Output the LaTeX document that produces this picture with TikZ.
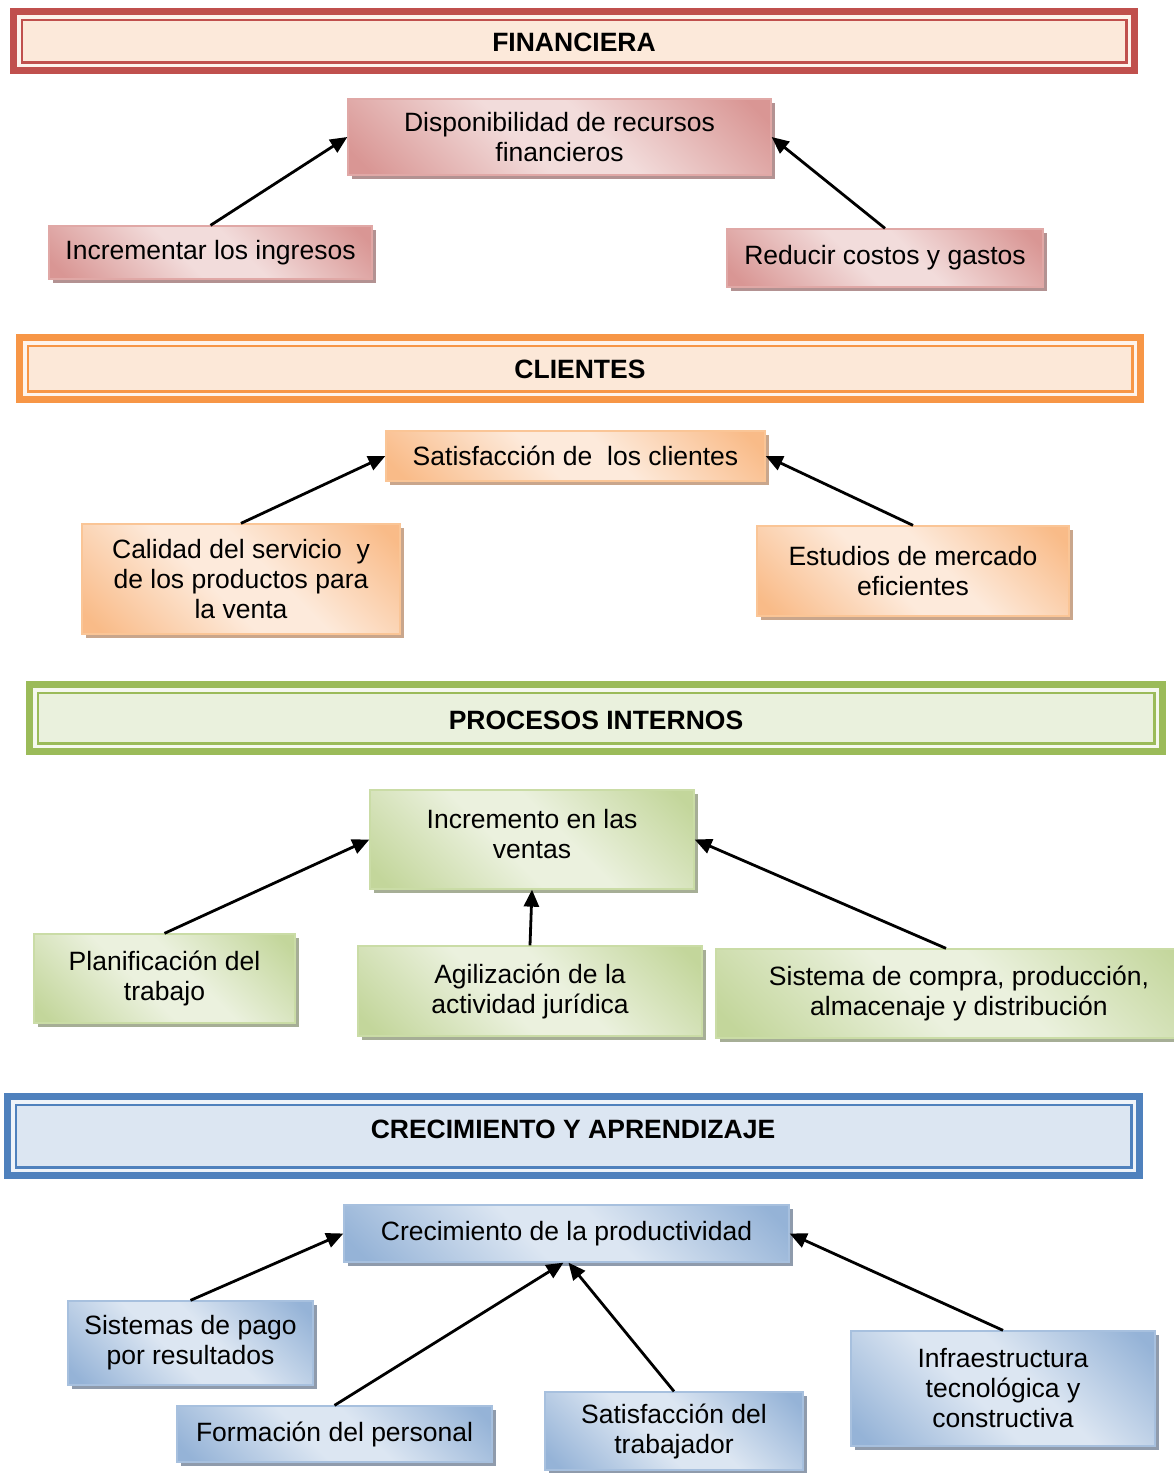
\documentclass[tikz,border=0pt]{standalone}
\usepackage{fontspec}
\setmainfont{Liberation Sans}
\usetikzlibrary{shadows,arrows.meta}

% perspective colours
\definecolor{finDark}{HTML}{C0504D}\definecolor{finFill}{HTML}{FCE9DA}\definecolor{finGap}{HTML}{FDF3EC}
\definecolor{cliDark}{HTML}{F79646}\definecolor{cliFill}{HTML}{FCE8D8}\definecolor{cliGap}{HTML}{FEF3EB}
\definecolor{proDark}{HTML}{9BBB59}\definecolor{proFill}{HTML}{EAF1DD}\definecolor{proGap}{HTML}{F5F8EE}
\definecolor{creDark}{HTML}{4F81BD}\definecolor{creFill}{HTML}{DCE6F2}\definecolor{creGap}{HTML}{EEF3F9}

% objective boxes
\definecolor{finDk}{HTML}{D99694}\definecolor{finLt}{HTML}{F2DCDB}\definecolor{finLn}{HTML}{E0A8A6}\definecolor{finSh}{HTML}{B39292}
\definecolor{cliDk}{HTML}{F9BB88}\definecolor{cliLt}{HTML}{FDEADB}\definecolor{cliLn}{HTML}{FAC596}\definecolor{cliSh}{HTML}{C9A68C}
\definecolor{proDk}{HTML}{C3D69B}\definecolor{proLt}{HTML}{EBF1DE}\definecolor{proLn}{HTML}{CADCA6}\definecolor{proSh}{HTML}{A6AE96}
\definecolor{creDk}{HTML}{95B3D7}\definecolor{creLt}{HTML}{DCE6F2}\definecolor{creLn}{HTML}{A7C0DE}\definecolor{creSh}{HTML}{8F9BAC}

\pgfdeclarehorizontalshading{finshade}{100bp}{color(0bp)=(finDk); color(18bp)=(finDk); color(44bp)=(finLt); color(56bp)=(finLt); color(82bp)=(finDk); color(100bp)=(finDk)}
\pgfdeclarehorizontalshading{clishade}{100bp}{color(0bp)=(cliDk); color(18bp)=(cliDk); color(44bp)=(cliLt); color(56bp)=(cliLt); color(82bp)=(cliDk); color(100bp)=(cliDk)}
\pgfdeclarehorizontalshading{proshade}{100bp}{color(0bp)=(proDk); color(18bp)=(proDk); color(44bp)=(proLt); color(56bp)=(proLt); color(82bp)=(proDk); color(100bp)=(proDk)}
\pgfdeclarehorizontalshading{creshade}{100bp}{color(0bp)=(creDk); color(18bp)=(creDk); color(44bp)=(creLt); color(56bp)=(creLt); color(82bp)=(creDk); color(100bp)=(creDk)}

\tikzset{
  objbox/.style={rectangle, shade, shading angle=45, line width=1.3pt, inner sep=0pt,
    align=center, font=\fontsize{26.5}{30}\selectfont},
  finbox/.style={objbox, draw=finLn, shading=finshade,
    drop shadow={shadow xshift=4pt, shadow yshift=-4pt, opacity=1, fill=finSh}},
  clibox/.style={objbox, draw=cliLn, shading=clishade,
    drop shadow={shadow xshift=4pt, shadow yshift=-4pt, opacity=1, fill=cliSh}},
  probox/.style={objbox, draw=proLn, shading=proshade,
    drop shadow={shadow xshift=4pt, shadow yshift=-4pt, opacity=1, fill=proSh}},
  crebox/.style={objbox, draw=creLn, shading=creshade,
    drop shadow={shadow xshift=4pt, shadow yshift=-4pt, opacity=1, fill=creSh}},
  band/.style={rectangle, inner sep=0pt},
  bandtitle/.style={inner sep=0pt, font=\fontsize{26.5}{30}\selectfont\bfseries},
  arr/.style={line width=2.8pt, -{Triangle[length=17pt,width=15pt]}},
}

% a perspective band: thick outer frame, light gap, thin inner line
\newcommand{\perspective}[4]{% name, dark, gap, fill
  \fill[#3] ([shift={(7,7)}]#1.north west) rectangle ([shift={(-7,-7)}]#1.south east);
  \draw[#2, line width=2.6pt, fill=#4] ([shift={(12,12)}]#1.north west) rectangle ([shift={(-12,-12)}]#1.south east);
}

\begin{document}
\begin{tikzpicture}[x=1pt, y=-1pt]
\useasboundingbox[fill=white] (0,0) rectangle (1174,1473);

% ---------------- FINANCIERA ----------------
\node[band, fill=finDark, minimum width=1128pt, minimum height=66pt] (finhdr) at (574,41) {};
\perspective{finhdr}{finDark}{finGap}{finFill}
\node[bandtitle] (fintitle) at (574,42) {FINANCIERA};

\node[finbox, minimum width=423pt, minimum height=76pt] (disp) at (559.5,137) {Disponibilidad de recursos\\financieros};
\node[finbox, minimum width=323pt, minimum height=53pt] (ingresos) at (210.5,252.5) {Incrementar los ingresos};
\node[finbox, minimum width=316pt, minimum height=58pt] (costos) at (885,258) {Reducir costos y gastos};

\draw[arr] (ingresos.north) -- (disp.west);
\draw[arr] (costos.north) -- (disp.east);

% ---------------- CLIENTES ----------------
\node[band, fill=cliDark, minimum width=1128pt, minimum height=69pt] (clihdr) at (580,368.5) {};
\perspective{clihdr}{cliDark}{cliGap}{cliFill}
\node[bandtitle] (clititle) at (580,369) {CLIENTES};

\node[clibox, minimum width=379pt, minimum height=50pt] (satis) at (575.5,456) {Satisfacción de\ \ los clientes};
\node[clibox, minimum width=318pt, minimum height=110pt] (calidad) at (241,579) {Calidad del servicio\ \ y\\de los productos para\\la venta};
\node[clibox, minimum width=312pt, minimum height=90pt] (estudios) at (913,571) {Estudios de mercado\\eficientes};

\draw[arr] (calidad.north) -- (satis.west);
\draw[arr] (estudios.north) -- (satis.east);

% ---------------- PROCESOS INTERNOS ----------------
\node[band, fill=proDark, minimum width=1140pt, minimum height=74pt] (prohdr) at (596,718) {};
\perspective{prohdr}{proDark}{proGap}{proFill}
\node[bandtitle] (protitle) at (596,720) {PROCESOS INTERNOS};

\node[probox, minimum width=324pt, minimum height=99pt, text depth=12pt] (incr) at (532,839.5) {Incremento en las\\ventas};
\node[probox, minimum width=261pt, minimum height=89pt] (planif) at (164.5,978.5) {Planificación del\\trabajo};
\node[probox, minimum width=344pt, minimum height=90pt] (agiliz) at (530,991) {Agilización de la\\actividad jurídica};
\node[probox, minimum width=486pt, minimum height=89pt] (sistema) at (959,993.5) {Sistema de compra, producción,\\almacenaje y distribución};

\draw[arr] (planif.north) -- (incr.west);
\draw[arr] (agiliz.north) -- (incr.south);
\draw[arr] ([xshift=-13pt]sistema.north) -- (incr.east);

% ---------------- CRECIMIENTO Y APRENDIZAJE ----------------
\node[band, fill=creDark, minimum width=1139pt, minimum height=86pt] (crehdr) at (573.5,1136) {};
\perspective{crehdr}{creDark}{creGap}{creFill}
\node[bandtitle] (cretitle) at (573,1129) {CRECIMIENTO Y APRENDIZAJE};

\node[crebox, minimum width=445pt, minimum height=57pt] (crec) at (566.5,1233.5) {Crecimiento de la productividad};
\node[crebox, minimum width=245pt, minimum height=84pt] (pago) at (190.5,1343) {Sistemas de pago\\por resultados};
\node[crebox, minimum width=315pt, minimum height=56pt] (form) at (334.5,1434) {Formación del personal};
\node[crebox, minimum width=258pt, minimum height=78pt] (satrab) at (674,1431) {Satisfacción del\\trabajador};
\node[crebox, minimum width=304pt, minimum height=115pt] (infra) at (1003,1388.5) {Infraestructura\\tecnológica y\\constructiva};

\draw[arr] (pago.north) -- (crec.west);
\draw[arr] (form.north) -- ([xshift=-3pt]crec.south);
\draw[arr] (satrab.north) -- ([xshift=2pt]crec.south);
\draw[arr] (infra.north) -- (crec.east);
\end{tikzpicture}
\end{document}
